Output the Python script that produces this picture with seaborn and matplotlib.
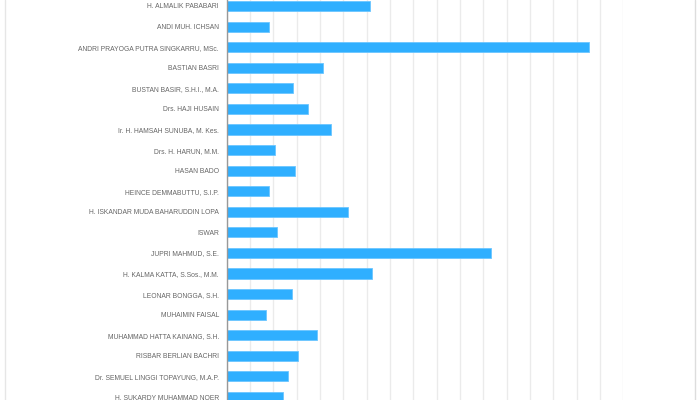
import matplotlib

matplotlib.use("Agg")

import matplotlib.pyplot as plt
from matplotlib.lines import Line2D
import pandas as pd
import seaborn as sns

names = [
    "H. ALMALIK PABABARI",
    "ANDI MUH. ICHSAN",
    "ANDRI PRAYOGA PUTRA SINGKARRU, MSc.",
    "BASTIAN BASRI",
    "BUSTAN BASIR, S.H.I., M.A.",
    "Drs. HAJI HUSAIN",
    "Ir. H. HAMSAH SUNUBA, M. Kes.",
    "Drs. H. HARUN, M.M.",
    "HASAN BADO",
    "HEINCE DEMMABUTTU, S.I.P.",
    "H. ISKANDAR MUDA BAHARUDDIN LOPA",
    "ISWAR",
    "JUPRI MAHMUD, S.E.",
    "H. KALMA KATTA, S.Sos., M.M.",
    "LEONAR BONGGA, S.H.",
    "MUHAIMIN FAISAL",
    "MUHAMMAD HATTA KAINANG, S.H.",
    "RISBAR BERLIAN BACHRI",
    "Dr. SEMUEL LINGGI TOPAYUNG, M.A.P.",
    "H. SUKARDY MUHAMMAD NOER",
]
votes = [6140, 1830, 15530, 4140, 2830, 3500, 4470, 2070, 2930, 1810,
         5190, 2140, 11330, 6240, 2810, 1670, 3860, 3070, 2640, 2400]
grid_ticks = list(range(0, 17001, 1000))

df = pd.DataFrame({"name": names, "votes": votes})

sns.set_style("white")
plt.rcParams["font.family"] = ["Liberation Sans", "DejaVu Sans"]

fig = plt.figure(figsize=(7, 4), dpi=100)
ax = fig.add_axes([226.7 / 700, -7.3 / 400, 396.6 / 700, 411.6 / 400])

sns.barplot(data=df, x="votes", y="name", orient="h", color="#2fafff",
            edgecolor="#6cc6ff", linewidth=0.6, width=0.49, saturation=1, ax=ax)

ax.set_xlim(0, grid_ticks[-1])
ax.set_xticks(grid_ticks)
ax.set_xticklabels([])
ax.grid(axis="x", color="#ebebeb", linewidth=1)
ax.set_axisbelow(True)
ax.set_xlabel("")
ax.set_ylabel("")
ax.tick_params(axis="y", length=0, pad=5.5, labelsize=4.9, labelcolor="#666666")
ax.tick_params(axis="x", length=0)
for side in ["top", "right", "bottom"]:
    ax.spines[side].set_visible(False)
ax.spines["left"].set_color("#999999")
ax.spines["left"].set_linewidth(1)

# card borders
fig.add_artist(Line2D([5 / 700, 5 / 700], [0, 1], color="#e6e6e6", linewidth=1))
fig.add_artist(Line2D([694.5 / 700, 694.5 / 700], [0, 1], color="#dddddd", linewidth=1))

fig.savefig("out.png", dpi=100)
plt.close(fig)
